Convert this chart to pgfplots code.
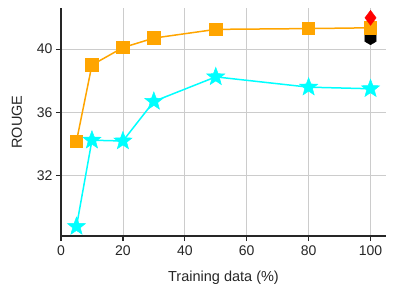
\documentclass[border=0pt]{standalone}
\usepackage{pgfplots}
\pgfplotsset{compat=1.18}
\usepackage{fontspec}
\setmainfont{Liberation Sans}
\definecolor{spine}{HTML}{262626}
\definecolor{gridc}{HTML}{CCCCCC}
\definecolor{aqua}{RGB}{0,255,255}
\definecolor{orng}{RGB}{255,165,0}
\pgfdeclareplotmark{fstar}{%
  \pgfpathmoveto{\pgfpointpolar{90}{\pgfplotmarksize}}%
  \pgfpathlineto{\pgfpointpolar{126}{0.42\pgfplotmarksize}}%
  \pgfpathlineto{\pgfpointpolar{162}{\pgfplotmarksize}}%
  \pgfpathlineto{\pgfpointpolar{198}{0.42\pgfplotmarksize}}%
  \pgfpathlineto{\pgfpointpolar{234}{\pgfplotmarksize}}%
  \pgfpathlineto{\pgfpointpolar{270}{0.42\pgfplotmarksize}}%
  \pgfpathlineto{\pgfpointpolar{306}{\pgfplotmarksize}}%
  \pgfpathlineto{\pgfpointpolar{342}{0.42\pgfplotmarksize}}%
  \pgfpathlineto{\pgfpointpolar{18}{\pgfplotmarksize}}%
  \pgfpathlineto{\pgfpointpolar{54}{0.42\pgfplotmarksize}}%
  \pgfpathclose\pgfusepathqfillstroke}
\pgfdeclareplotmark{hexa}{%
  \pgfpathmoveto{\pgfpointpolar{90}{\pgfplotmarksize}}%
  \pgfpathlineto{\pgfpointpolar{150}{\pgfplotmarksize}}%
  \pgfpathlineto{\pgfpointpolar{210}{\pgfplotmarksize}}%
  \pgfpathlineto{\pgfpointpolar{270}{\pgfplotmarksize}}%
  \pgfpathlineto{\pgfpointpolar{330}{\pgfplotmarksize}}%
  \pgfpathlineto{\pgfpointpolar{30}{\pgfplotmarksize}}%
  \pgfpathclose\pgfusepathqfillstroke}
\begin{document}
\begin{tikzpicture}
\begin{axis}[
  scale only axis, width=325pt, height=228pt,
  xmin=0, xmax=105, ymin=28.2, ymax=42.6,
  axis lines*=left,
  axis line style={spine, line width=1.4pt},
  xtick={0,20,40,60,80,100}, ytick={32,36,40},
  grid=major, major grid style={gridc, line width=0.8pt},
  tick style={spine, line width=1.2pt},
  tick align=outside, major tick length=5pt,
  tick label style={font=\fontsize{14}{16}\selectfont, text=spine},
  xticklabel style={yshift=-1.5pt},
  label style={font=\fontsize{14.5}{16}\selectfont, text=spine},
  xlabel={Training data (\%)}, ylabel={ROUGE},
  xlabel style={yshift=-8pt}, ylabel style={yshift=8pt},
  /pgf/number format/assume math mode=true,
  clip=false,
]
\addplot[only marks, mark=hexa, mark size=6.5pt, fill=black, draw=black] coordinates {(100,40.69)};
\addplot[color=orng, line width=1.5pt, mark=square*, mark size=6pt,
  mark options={fill=orng, draw=orng}]
  coordinates {(5,34.18) (10,39.0) (20,40.1) (30,40.7) (50,41.25) (80,41.3) (100,41.35)};
\addplot[color=aqua, line width=1.5pt, mark=fstar, mark size=9.5pt,
  mark options={fill=aqua, draw=aqua, line width=0.5pt}]
  coordinates {(5,28.8) (10,34.25) (20,34.2) (30,36.7) (50,38.25) (80,37.6) (100,37.5)};
\addplot[only marks, mark=diamond*, mark size=7.5pt, color=red, fill=red] coordinates {(100,41.98)};
\end{axis}
\path (-61pt,-59pt) rectangle (335pt,236pt);
\end{tikzpicture}
\end{document}
